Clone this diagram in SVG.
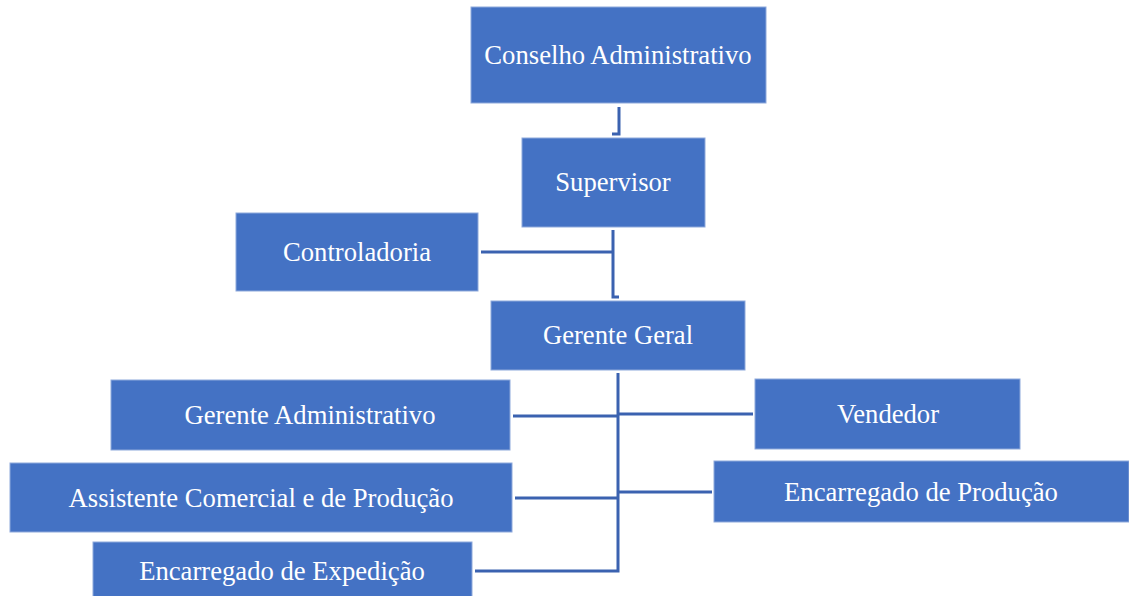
<svg xmlns="http://www.w3.org/2000/svg" width="1129" height="596" viewBox="0 0 1129 596">
  <style>
    .box { fill: #4472C4; stroke: #8EA9DB; stroke-width: 1; }
    .lbl { fill: #FFFFFF; font-family: "Liberation Serif", "Times New Roman", serif; font-size: 26.67px; text-anchor: middle; }
    .wire { fill: none; stroke: #3B62B0; stroke-width: 3; }
  </style>
  <rect width="1129" height="596" fill="#FFFFFF"/>

  <g id="connectors">
    <path class="wire" d="M619 107 V134 H612"/>
    <path class="wire" d="M613 230 V297 H619"/>
    <path class="wire" d="M481 252 H613"/>
    <path class="wire" d="M618 373 V571 H475"/>
    <path class="wire" d="M513 416 H618"/>
    <path class="wire" d="M618 414 H753"/>
    <path class="wire" d="M515 498 H618"/>
    <path class="wire" d="M618 492 H712"/>
  </g>

  <g id="conselho">
    <rect class="box" x="471" y="7" width="295" height="96"/>
    <text class="lbl" x="618" y="64">Conselho Administrativo</text>
  </g>
  <g id="supervisor">
    <rect class="box" x="522" y="138" width="183" height="89"/>
    <text class="lbl" x="613" y="191">Supervisor</text>
  </g>
  <g id="controladoria">
    <rect class="box" x="236" y="213" width="242" height="78"/>
    <text class="lbl" x="357" y="261">Controladoria</text>
  </g>
  <g id="gerente-geral">
    <rect class="box" x="491" y="301" width="254" height="69"/>
    <text class="lbl" x="618" y="344">Gerente Geral</text>
  </g>
  <g id="gerente-administrativo">
    <rect class="box" x="111" y="380" width="399" height="70"/>
    <text class="lbl" x="310" y="424">Gerente Administrativo</text>
  </g>
  <g id="vendedor">
    <rect class="box" x="755" y="379" width="265" height="70"/>
    <text class="lbl" x="888" y="423">Vendedor</text>
  </g>
  <g id="assistente-comercial">
    <rect class="box" x="10" y="463" width="502" height="69"/>
    <text class="lbl" x="261" y="507">Assistente Comercial e de Produção</text>
  </g>
  <g id="encarregado-producao">
    <rect class="box" x="714" y="461" width="415" height="61"/>
    <text class="lbl" x="921" y="501">Encarregado de Produção</text>
  </g>
  <g id="encarregado-expedicao">
    <rect class="box" x="93" y="542" width="379" height="60"/>
    <text class="lbl" x="282" y="580">Encarregado de Expedição</text>
  </g>
</svg>
